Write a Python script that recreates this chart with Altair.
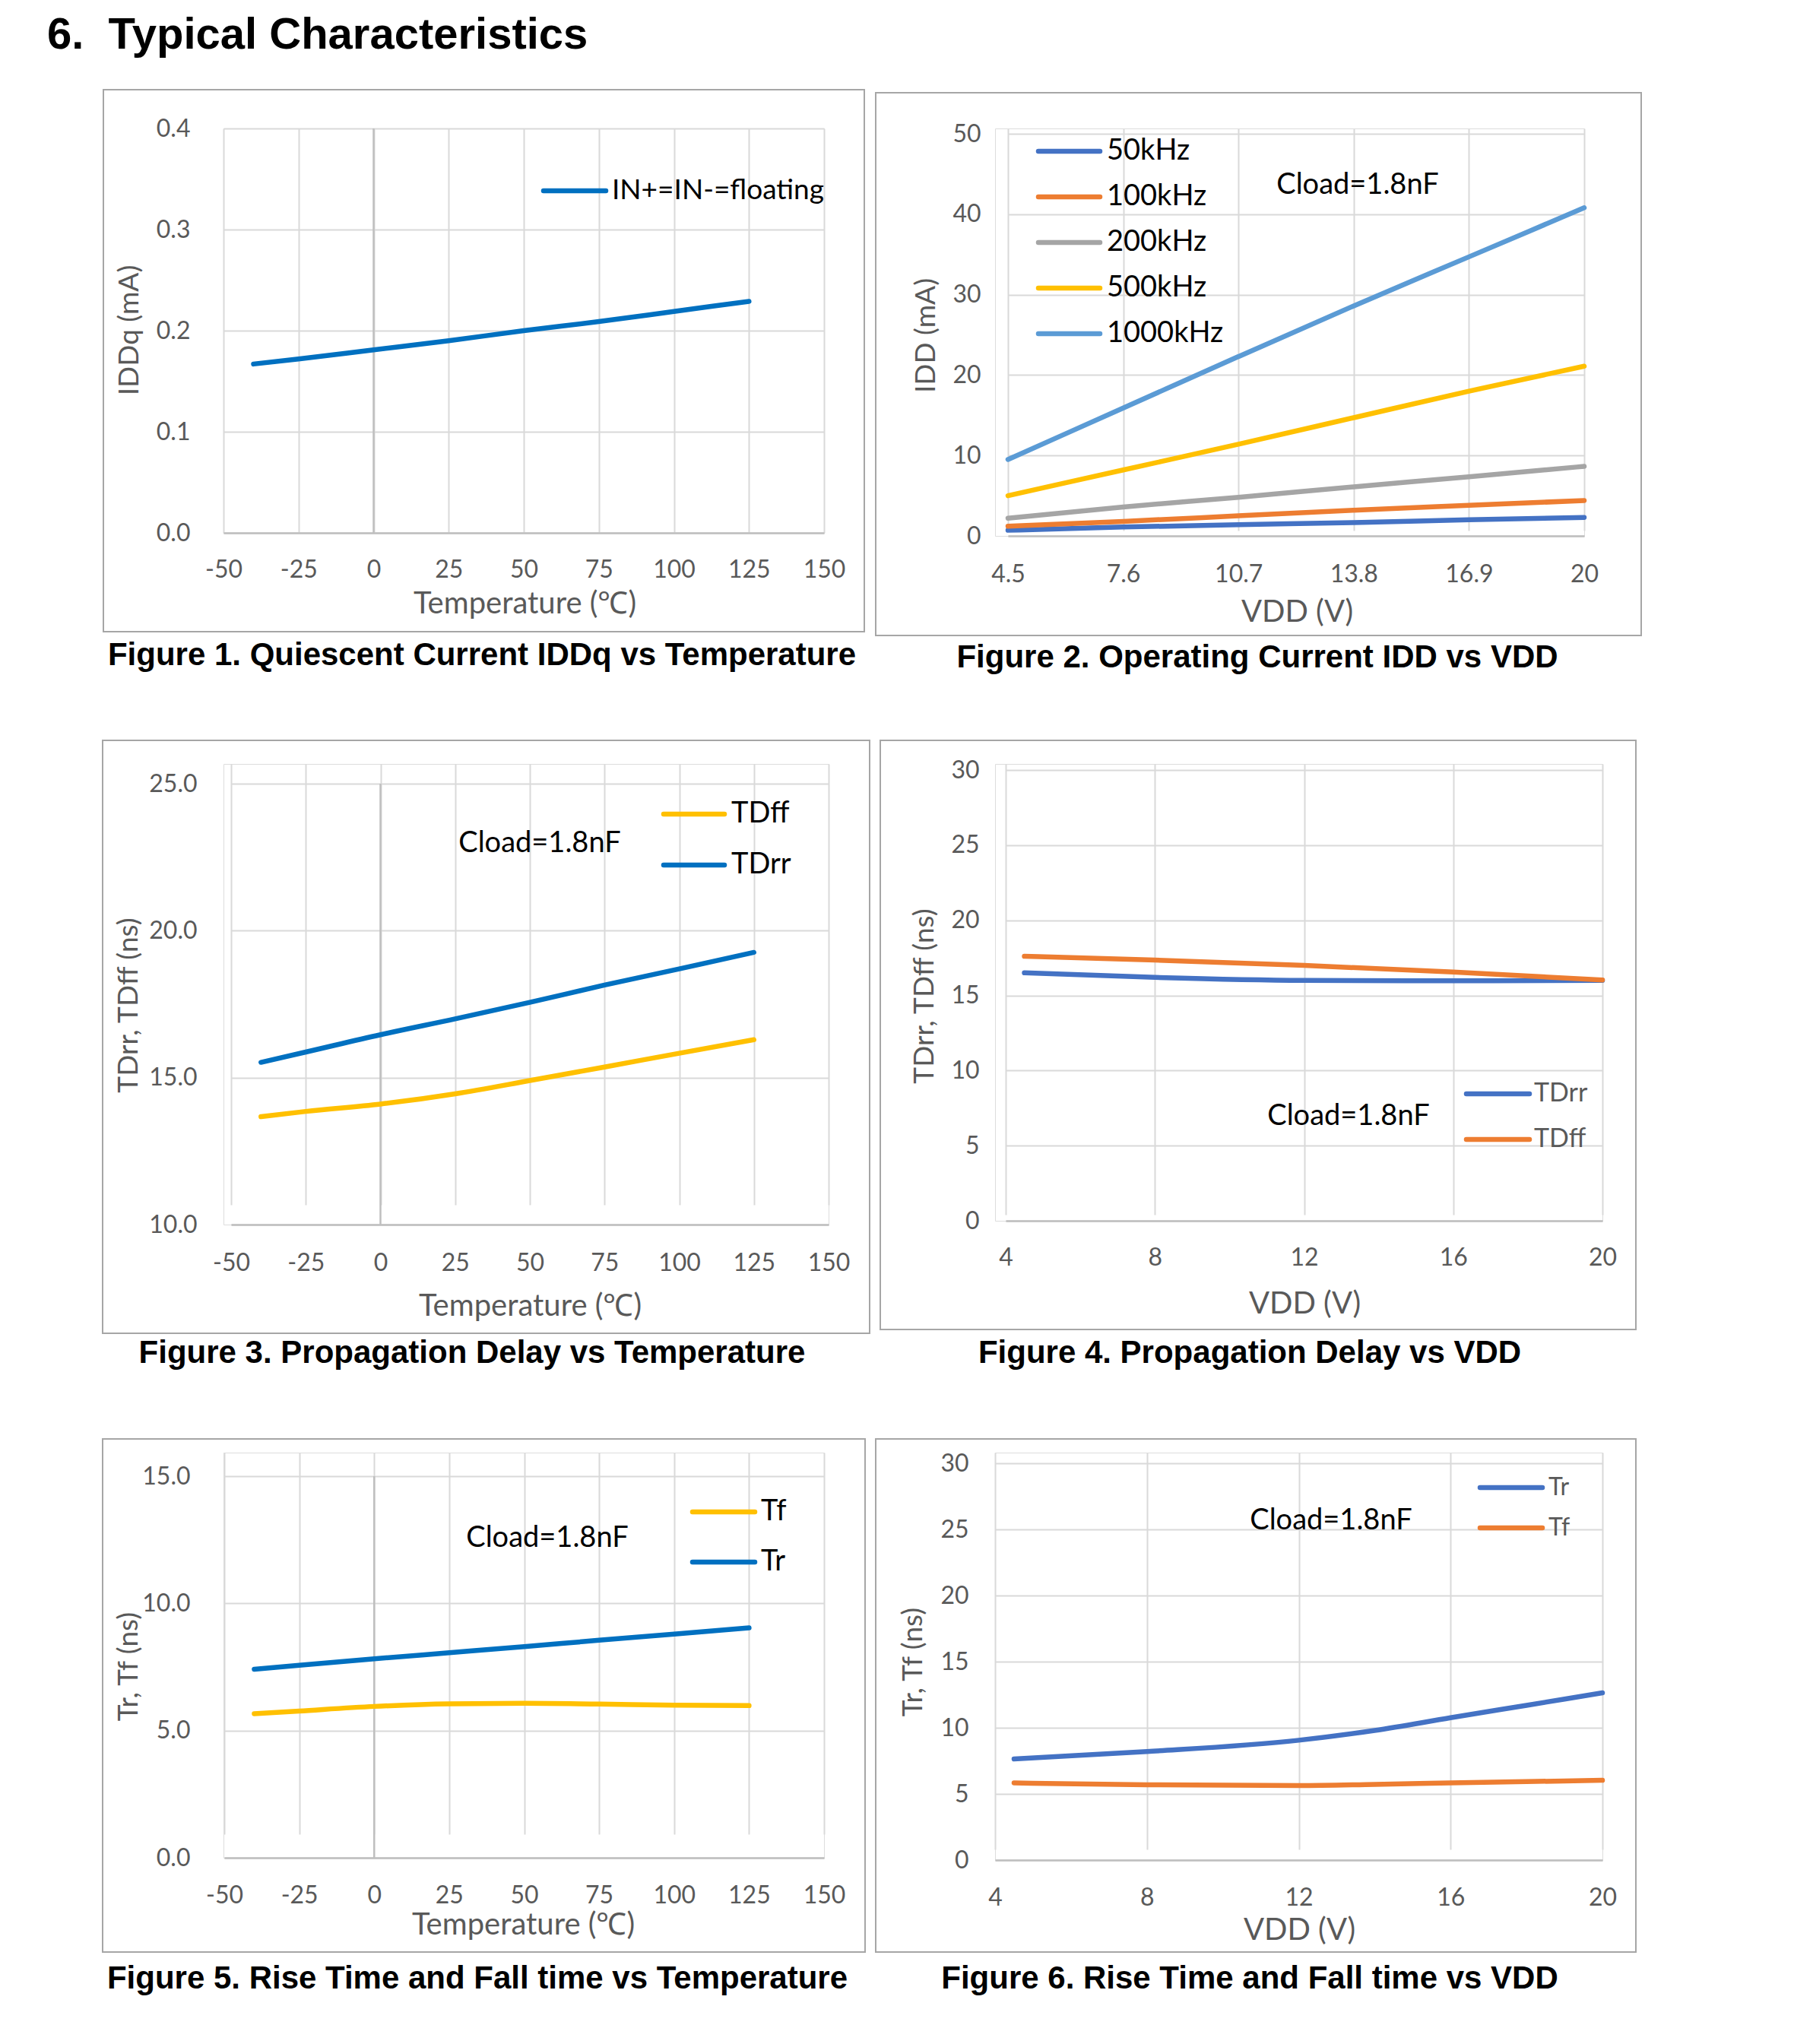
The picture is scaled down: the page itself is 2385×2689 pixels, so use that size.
import altair as alt
import pandas as pd

# ---------------- data ----------------
fig1_temp = [-40, -25, 0, 25, 50, 75, 100, 125]
fig1_iddq = [0.167, 0.172, 0.181, 0.190, 0.200, 0.209, 0.219, 0.229]

fig2_vdd = [4.5, 7.6, 10.7, 13.8, 16.9, 20.0]
fig2_50k = [0.7, 1.1, 1.4, 1.65, 2.0, 2.3]
fig2_100k = [1.2, 1.8, 2.5, 3.2, 3.8, 4.4]
fig2_200k = [2.2, 3.6, 4.8, 6.1, 7.35, 8.65]
fig2_500k = [5.0, 8.2, 11.4, 14.7, 18.0, 21.1]
fig2_1000k = [9.5, 15.9, 22.3, 28.6, 34.7, 40.8]

fig3_temp = [-40, -25, 0, 25, 50, 75, 100, 125]
fig3_tdff = [13.67, 13.85, 14.1, 14.45, 14.9, 15.36, 15.83, 16.29]
fig3_tdrr = [15.52, 15.87, 16.46, 17.0, 17.56, 18.15, 18.7, 19.26]

fig4_vdd = [4.5, 8, 12, 16, 20]
fig4_tdrr = [16.5, 16.2, 16.0, 15.97, 16.0]
fig4_tdff = [17.6, 17.35, 17.0, 16.55, 16.03]

fig5_temp = [-40, -25, 0, 25, 50, 75, 100, 125]
fig5_tf = [5.66, 5.77, 5.95, 6.05, 6.07, 6.04, 6.0, 5.98]
fig5_tr = [7.41, 7.57, 7.82, 8.06, 8.3, 8.55, 8.79, 9.04]

fig6_vdd = [4.5, 8, 12, 14, 16, 18, 20]
fig6_tr = [7.64, 8.2, 9.06, 9.8, 10.76, 11.7, 12.64]
fig6_tf = [5.83, 5.69, 5.63, 5.72, 5.83, 5.93, 6.03]

temp_ticks = [-50, -25, 0, 25, 50, 75, 100, 125, 150]
vdd_ticks_f2 = [4.5, 7.6, 10.7, 13.8, 16.9, 20]
vdd_ticks = [4, 8, 12, 16, 20]

# ---------------- styles ----------------
LBL_FONT = "Lato"
CAP_FONT = "Liberation Sans"
GRID = "#d9d9d9"
AXIS_LINE = "#bfbfbf"
TXT_GRAY = "#595959"
LW = 6.5
TICK_SIZE = 32
XTITLE_SIZE = 40
YTITLE_SIZE = 37


def long_df(xs, series):
    rows = []
    for name, vals in series.items():
        for x, y in zip(xs, vals):
            rows.append({"x": x, "y": y, "series": name})
    return pd.DataFrame(rows)


def one():
    return pd.DataFrame({"k": [0]})


def text_layer(txt, x, y, size, color="black", font=LBL_FONT, weight="normal", align="center"):
    return alt.Chart(one()).mark_text(
        text=txt, font=font, fontSize=size, fontWeight=weight, color=color,
        align=align, baseline="middle"
    ).encode(x=alt.value(x), y=alt.value(y))


def frame_layer(x, x2, y, y2):
    return alt.Chart(one()).mark_rect(
        fill="white", fillOpacity=0, stroke="#a6a6a6", strokeWidth=2
    ).encode(x=alt.value(x), x2=alt.value(x2), y=alt.value(y), y2=alt.value(y2))


def legend_layers(names, x1, x2, xlab, ys, size, color):
    out = []
    for n, yy in zip(names, ys):
        d = pd.DataFrame({"series": [n]})
        out.append(alt.Chart(d).mark_rule(strokeWidth=LW, strokeCap="round").encode(
            x=alt.value(x1), x2=alt.value(x2), y=alt.value(yy),
            color=alt.Color("series:N", legend=None)))
        out.append(alt.Chart(d).mark_text(
            text=n, font=LBL_FONT, fontSize=size, color=color, align="left", baseline="middle"
        ).encode(x=alt.value(xlab), y=alt.value(yy)))
    return out


def x_axis(values, title, tx, ty, pad):
    return alt.Axis(
        values=values, labelExpr="'' + datum.value", title=title,
        titleX=tx, titleY=ty, titleAlign="center", titleBaseline="middle", titleAngle=0,
        titleFont=LBL_FONT, titleFontSize=XTITLE_SIZE, titleFontWeight="normal", titleColor=TXT_GRAY,
        labelFont=LBL_FONT, labelFontSize=TICK_SIZE, labelColor=TXT_GRAY,
        labelPadding=pad, labelBaseline="middle", labelAlign="center",
        labelFlush=False, labelOverlap=False, labelBound=False,
        ticks=False, tickSize=0, domain=True, domainColor=AXIS_LINE, domainWidth=2.5,
        grid=True, gridColor=GRID, gridWidth=2)


def y_axis(values, fmt, title, tx, ty, pad):
    return alt.Axis(
        values=values, format=fmt, title=title,
        titleX=tx, titleY=ty, titleAlign="center", titleBaseline="middle", titleAngle=270,
        titleFont=LBL_FONT, titleFontSize=YTITLE_SIZE, titleFontWeight="normal", titleColor=TXT_GRAY,
        labelFont=LBL_FONT, labelFontSize=TICK_SIZE, labelColor=TXT_GRAY,
        labelPadding=pad, labelBaseline="middle", labelAlign="right",
        labelFlush=False, labelOverlap=False, labelBound=False,
        ticks=False, tickSize=0, domain=False,
        grid=True, gridColor=GRID, gridWidth=2)


def panel(df, names, colors, xdom, xrange, xax, ydom, yrange, yax, w, h,
          frame, caption, legend, cload=None, zero_rule=False, extra=()):
    xs = alt.Scale(domain=xdom, range=xrange, nice=False, zero=False)
    ys = alt.Scale(domain=ydom, range=yrange, nice=False, zero=False)
    layers = [frame_layer(*frame)]
    if zero_rule:
        zr = pd.DataFrame({"x": [0], "y": [ydom[0]], "y2": [ydom[1]]})
        layers.append(alt.Chart(zr).mark_rule(color=AXIS_LINE, strokeWidth=2.5).encode(
            x=alt.X("x:Q", scale=xs, axis=xax), y=alt.Y("y:Q", scale=ys, axis=yax), y2="y2:Q"))
    layers.append(alt.Chart(df).mark_line(strokeWidth=LW, interpolate="monotone", strokeCap="round").encode(
        x=alt.X("x:Q", scale=xs, axis=xax),
        y=alt.Y("y:Q", scale=ys, axis=yax),
        color=alt.Color("series:N", scale=alt.Scale(domain=names, range=colors), legend=None),
    ))
    layers += legend_layers(names, legend["x1"], legend["x2"], legend["xl"], legend["ys"],
                            legend["size"], legend["color"])
    if cload is not None:
        layers.append(text_layer("Cload=1.8nF", cload[0], cload[1], 38))
    layers.append(text_layer(caption[0], caption[1], caption[2], 42, font=CAP_FONT, weight="bold"))
    layers += list(extra)
    return alt.layer(*layers).properties(width=w, height=h)


# ---------------- Figure 1 ----------------
df1 = long_df(fig1_temp, {"IN+=IN-=floating": fig1_iddq})
page_rect = alt.Chart(one()).mark_rect(fill="white", fillOpacity=0, strokeWidth=0).encode(
    x=alt.value(-285), x2=alt.value(2070), y=alt.value(-160), y2=alt.value(2495))
p1 = panel(
    df1, ["IN+=IN-=floating"], ["#0070C0"],
    [-50, 150], [0, 790], x_axis(temp_ticks, "Temperature (℃)", 396, 93, 48),
    [0, 0.4], [532, 0], y_axis([0, 0.1, 0.2, 0.3, 0.4], ".1f", "IDDq (mA)", -124, 265, 44),
    790, 532,
    frame=(-158, 843, -51, 662),
    caption=("Figure 1. Quiescent Current IDDq vs Temperature", 340, 693),
    legend=dict(x1=421, x2=503, xl=511, ys=[82], size=37, color="black"),
    zero_rule=True,
    extra=[page_rect,
           text_layer("6.\u00a0\u00a0Typical Characteristics", -232, -122, 58, font=CAP_FONT,
                      weight="bold", align="left")],
)

# ---------------- Figure 2 ----------------
f2_names = ["50kHz", "100kHz", "200kHz", "500kHz", "1000kHz"]
df2 = long_df(fig2_vdd, {"50kHz": fig2_50k, "100kHz": fig2_100k, "200kHz": fig2_200k,
                         "500kHz": fig2_500k, "1000kHz": fig2_1000k})
p2 = panel(
    df2, f2_names, ["#4472C4", "#ED7D31", "#A5A5A5", "#FFC000", "#5B9BD5"],
    [4.5, 20], [17, 775], x_axis(vdd_ticks_f2, "VDD (V)", 397, 100, 50),
    [0, 50], [536, 7], y_axis([0, 10, 20, 30, 40, 50], "d", "IDD (mA)", -91, 272, 19),
    775, 536,
    frame=(-157, 850, -47, 667),
    caption=("Figure 2. Operating Current IDD vs VDD", 345, 696),
    legend=dict(x1=57, x2=138, xl=147, ys=[30, 90, 150, 210, 270], size=38, color="black"),
    cload=(477, 75),
)

# ---------------- Figure 3 ----------------
df3 = long_df(fig3_temp, {"TDff": fig3_tdff, "TDrr": fig3_tdrr})
p3 = panel(
    df3, ["TDff", "TDrr"], ["#FFC000", "#0070C0"],
    [-50, 150], [10, 796], x_axis(temp_ticks, "Temperature (℃)", 403, 107, 50),
    [10, 25], [606, 26], y_axis([10, 15, 20, 25], ".1f", "TDrr, TDff (ns)", -125, 317, 35),
    796, 606,
    frame=(-159, 850, -31, 749),
    caption=("Figure 3. Propagation Delay vs Temperature", 327, 775),
    legend=dict(x1=579, x2=659, xl=668, ys=[66, 133], size=38, color="black"),
    cload=(416, 105),
    zero_rule=True,
)

# ---------------- Figure 4 ----------------
df4 = long_df(fig4_vdd, {"TDrr": fig4_tdrr, "TDff": fig4_tdff})
p4 = panel(
    df4, ["TDrr", "TDff"], ["#4472C4", "#ED7D31"],
    [4, 20], [14, 799], x_axis(vdd_ticks, "VDD (V)", 407, 109, 48),
    [0, 30], [601, 8], y_axis([0, 5, 10, 15, 20, 25, 30], "d", "TDrr, TDff (ns)", -93, 305, 21),
    799, 601,
    frame=(-151, 843, -31, 744),
    caption=("Figure 4. Propagation Delay vs VDD", 335, 775),
    legend=dict(x1=620, x2=703, xl=709, ys=[434, 494], size=34, color=TXT_GRAY),
    cload=(465, 464),
)

# ---------------- Figure 5 ----------------
df5 = long_df(fig5_temp, {"Tf": fig5_tf, "Tr": fig5_tr})
p5 = panel(
    df5, ["Tf", "Tr"], ["#FFC000", "#0070C0"],
    [-50, 150], [1, 790], x_axis(temp_ticks, "Temperature (℃)", 394, 88, 49),
    [0, 15], [533, 31], y_axis([0, 5, 10, 15], ".1f", "Tr, Tf (ns)", -125, 281, 44),
    790, 533,
    frame=(-159, 844, -18, 657),
    caption=("Figure 5. Rise Time and Fall time vs Temperature", 334, 692),
    legend=dict(x1=617, x2=699, xl=707, ys=[78, 144], size=38, color="black"),
    cload=(426, 113),
    zero_rule=True,
)

# ---------------- Figure 6 ----------------
df6 = long_df(fig6_vdd, {"Tr": fig6_tr, "Tf": fig6_tf})
p6 = panel(
    df6, ["Tr", "Tf"], ["#4472C4", "#ED7D31"],
    [4, 20], [0, 799], x_axis(vdd_ticks, "VDD (V)", 400, 92, 49),
    [0, 30], [536, 14], y_axis([0, 5, 10, 15, 20, 25, 30], "d", "Tr, Tf (ns)", -108, 275, 35),
    799, 536,
    frame=(-157, 843, -18, 657),
    caption=("Figure 6. Rise Time and Fall time vs VDD", 335, 692),
    legend=dict(x1=638, x2=720, xl=728, ys=[46, 99], size=32, color=TXT_GRAY),
    cload=(442, 90),
)

chart = alt.concat(
    p1, p2, p3, p4, p5, p6,
    columns=2, align="each", bounds="flush",
    spacing={"row": 300, "column": 219},
).resolve_scale(
    x="independent", y="independent", color="independent"
).properties(padding=0).configure_view(strokeWidth=0).configure(background="white")

chart.save("out.html", embed_options={"renderer": "svg", "actions": False})
